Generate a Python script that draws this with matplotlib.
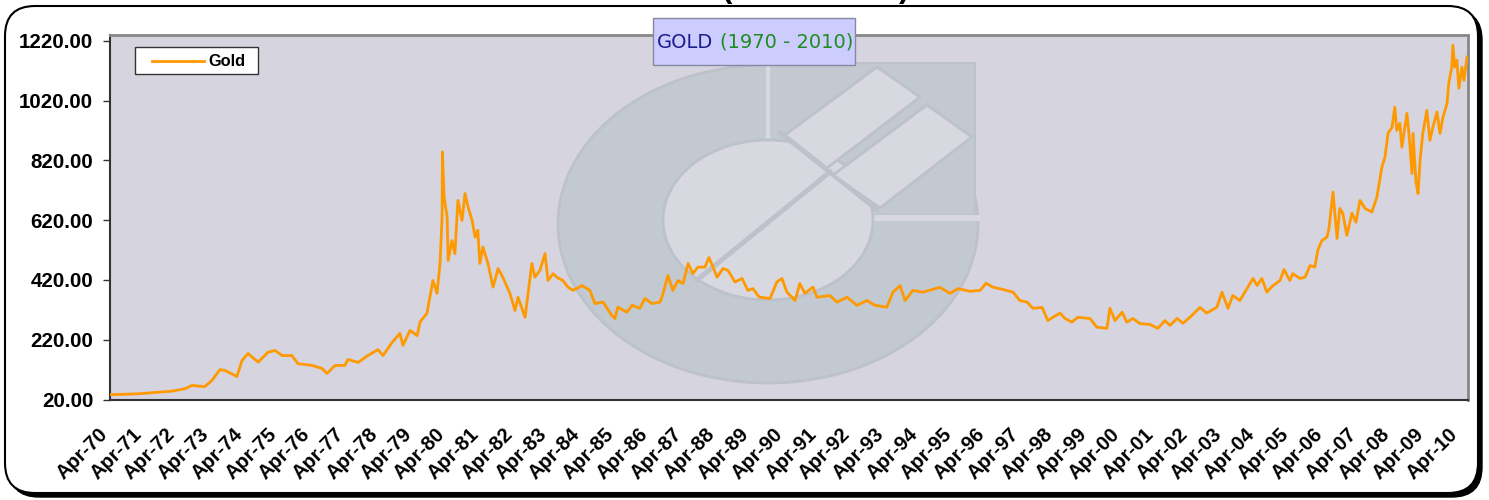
import matplotlib
matplotlib.use("Agg")
import matplotlib.pyplot as plt
import matplotlib.transforms as mtransforms
from matplotlib.patches import Ellipse, Rectangle, Polygon, FancyBboxPatch
from matplotlib.lines import Line2D

plt.rcParams['font.family'] = ['Liberation Sans', 'DejaVu Sans']

# gold price (USD/oz); x in decimal years
years = [
    1970.25, 1971.08, 1972.09, 1972.47, 1972.68, 1973.06, 1973.27, 1973.51, 1973.66, 1974.01,
    1974.16, 1974.34, 1974.64, 1974.93, 1975.14, 1975.35, 1975.64, 1975.82, 1976.24, 1976.53,
    1976.68, 1976.92, 1977.21, 1977.30, 1977.60, 1977.89, 1978.19, 1978.34, 1978.61, 1978.84,
    1978.93, 1979.14, 1979.35, 1979.44, 1979.64, 1979.73, 1979.82, 1979.94, 1980.03, 1980.09,
    1980.10, 1980.15, 1980.24, 1980.27, 1980.38, 1980.47, 1980.53, 1980.56, 1980.68, 1980.77,
    1980.86, 1980.98, 1981.07, 1981.15, 1981.21, 1981.30, 1981.45, 1981.60, 1981.75, 1981.89,
    1982.10, 1982.25, 1982.34, 1982.55, 1982.64, 1982.75, 1982.84, 1982.99, 1983.14, 1983.23,
    1983.38, 1983.49, 1983.67, 1983.82, 1983.97, 1984.24, 1984.47, 1984.62, 1984.86, 1985.12,
    1985.21, 1985.30, 1985.57, 1985.72, 1985.95, 1986.10, 1986.31, 1986.55, 1986.64, 1986.78,
    1986.93, 1987.08, 1987.23, 1987.38, 1987.52, 1987.67, 1987.88, 1988.00, 1988.24, 1988.41,
    1988.56, 1988.77, 1988.98, 1989.15, 1989.30, 1989.45, 1989.51, 1989.81, 1990.01, 1990.16,
    1990.31, 1990.55, 1990.69, 1990.84, 1991.08, 1991.20, 1991.58, 1991.79, 1992.09, 1992.38,
    1992.68, 1992.92, 1993.27, 1993.45, 1993.66, 1993.81, 1994.04, 1994.34, 1994.61, 1994.84,
    1995.14, 1995.38, 1995.73, 1996.03, 1996.21, 1996.41, 1996.71, 1997.01, 1997.21, 1997.42,
    1997.60, 1997.87, 1998.04, 1998.19, 1998.40, 1998.55, 1998.75, 1998.93, 1999.29, 1999.49,
    1999.79, 1999.88, 2000.03, 2000.24, 2000.38, 2000.56, 2000.77, 2001.07, 2001.30, 2001.51,
    2001.66, 2001.87, 2002.04, 2002.25, 2002.55, 2002.75, 2003.05, 2003.20, 2003.38, 2003.52,
    2003.73, 2003.94, 2004.12, 2004.24, 2004.38, 2004.53, 2004.71, 2004.92, 2005.04, 2005.21,
    2005.30, 2005.51, 2005.66, 2005.81, 2005.95, 2006.04, 2006.16, 2006.31, 2006.37, 2006.49,
    2006.61, 2006.69, 2006.78, 2006.90, 2007.05, 2007.17, 2007.29, 2007.44, 2007.64, 2007.73,
    2007.79, 2007.94, 2008.03, 2008.12, 2008.24, 2008.32, 2008.38, 2008.47, 2008.53, 2008.62,
    2008.68, 2008.74, 2008.83, 2008.86, 2008.95, 2009.01, 2009.07, 2009.15, 2009.27, 2009.36,
    2009.45, 2009.57, 2009.66, 2009.75, 2009.87, 2009.92, 2010.01, 2010.04, 2010.10, 2010.16,
    2010.22, 2010.31, 2010.37, 2010.46,
]
gold = [
    36, 39, 48, 56, 67, 63, 84, 120, 117, 97,
    150, 174, 145, 178, 184, 167, 167, 140, 134, 124,
    107, 134, 134, 154, 144, 167, 187, 167, 211, 241,
    201, 251, 234, 280, 308, 362, 418, 375, 475, 630,
    848, 697, 630, 485, 552, 508, 630, 686, 619, 709,
    664, 619, 563, 586, 475, 530, 475, 396, 458, 429,
    375, 318, 362, 295, 375, 475, 429, 452, 508, 418,
    441, 429, 418, 396, 385, 401, 385, 341, 346, 301,
    291, 329, 312, 335, 325, 358, 341, 346, 375, 435,
    385, 418, 408, 475, 441, 463, 463, 495, 429, 458,
    452, 413, 425, 385, 391, 368, 362, 358, 413, 425,
    379, 351, 408, 375, 396, 362, 368, 346, 362, 335,
    351, 335, 329, 379, 401, 351, 385, 379, 388, 395,
    375, 391, 382, 385, 409, 396, 388, 379, 351, 346,
    325, 328, 284, 295, 309, 291, 279, 295, 291, 262,
    258, 325, 284, 312, 279, 291, 274, 271, 258, 284,
    268, 291, 275, 295, 328, 309, 329, 379, 325, 368,
    351, 391, 425, 401, 425, 379, 401, 418, 455, 418,
    441, 425, 429, 468, 463, 519, 552, 563, 592, 714,
    559, 659, 643, 569, 643, 613, 686, 659, 647, 676,
    697, 798, 831, 910, 931, 998, 920, 944, 864, 931,
    977, 910, 776, 910, 747, 709, 820, 910, 987, 887,
    931, 982, 910, 965, 1011, 1078, 1132, 1205, 1132, 1155,
    1061, 1132, 1088, 1166,
]
tick_labels = [
    "Apr-70", "Apr-71", "Apr-72", "Apr-73", "Apr-74", "Apr-75", "Apr-76", "Apr-77",
    "Apr-78", "Apr-79", "Apr-80", "Apr-81", "Apr-82", "Apr-83", "Apr-84", "Apr-85",
    "Apr-86", "Apr-87", "Apr-88", "Apr-89", "Apr-90", "Apr-91", "Apr-92", "Apr-93",
    "Apr-94", "Apr-95", "Apr-96", "Apr-97", "Apr-98", "Apr-99", "Apr-00", "Apr-01",
    "Apr-02", "Apr-03", "Apr-04", "Apr-05", "Apr-06", "Apr-07", "Apr-08", "Apr-09",
    "Apr-10",
]
y_ticks = [20, 220, 420, 620, 820, 1020, 1220]

W, H = 1489, 500
fig = plt.figure(figsize=(W / 100, H / 100), dpi=100)
# pixel coords (origin top-left) -> figure
pix = mtransforms.Affine2D().scale(1 / W, -1 / H).translate(0, 1) + fig.transFigure

# rounded frame with drop shadow
bg = fig.add_axes([0, 0, 1, 1])
bg.set_xlim(0, W); bg.set_ylim(H, 0); bg.axis("off")
bg.add_patch(FancyBboxPatch((9, 10), 1473, 487, boxstyle="round,pad=0,rounding_size=30",
                            fc="black", ec="black", lw=1))
bg.add_patch(FancyBboxPatch((5, 6), 1473, 487, boxstyle="round,pad=0,rounding_size=30",
                            fc="white", ec="black", lw=1.5))

ax = fig.add_axes([110 / W, 1 - 399.5 / H, 1358 / W, 365 / H])
ax.set_facecolor("#D6D4DF")

# watermark logo
c_logo, c_edge, c_light = "#C3C9D1", "#BCC1CA", "#D8D8E1"
ax.add_patch(Ellipse((768, 224), 420, 318, transform=pix, fc=c_logo, ec=c_edge, lw=2, zorder=1))
ax.add_patch(Rectangle((767, 63), 208, 152, transform=pix, fc=c_logo, ec=c_edge, lw=1.5, zorder=1))
ax.add_patch(Rectangle((870, 215), 110, 6, transform=pix, fc=c_light, ec="none", zorder=1))
ax.add_patch(Rectangle((766, 60), 4, 80, transform=pix, fc=c_light, ec="none", zorder=1))
ax.add_patch(Ellipse((768, 220), 210, 160, transform=pix, fc=c_light, ec=c_edge, lw=2, zorder=1))
ax.add_patch(Polygon([(785, 135), (877, 67), (920, 97), (827, 168)], transform=pix,
                     fc=c_light, ec=c_edge, lw=2, zorder=1))
ax.add_patch(Polygon([(833, 175), (927, 105), (972, 137), (880, 208)], transform=pix,
                     fc=c_light, ec=c_edge, lw=2, zorder=1))
ax.add_line(Line2D([697, 830], [280, 172], transform=pix, color=c_edge, lw=3.5, zorder=1))
ax.add_line(Line2D([780, 877], [133, 210], transform=pix, color=c_edge, lw=3, zorder=1))

ax.plot(years, gold, color="#FF9900", lw=2.0, zorder=3)

ax.set_xlim(1970.25, 2010.49)
ax.set_ylim(20, 1241)
ax.set_yticks(y_ticks)
ax.set_yticklabels([f"{v:.2f}" for v in y_ticks], fontweight="bold", fontsize=14.8)
ax.set_xticks([1970.25 + i for i in range(len(tick_labels))])
ax.set_xticklabels(tick_labels, rotation=45, ha="right", va="top", rotation_mode="anchor",
                   fontweight="bold", fontsize=14.5)
ax.tick_params(axis="y", length=5, width=1, pad=7, color="#333333")
ax.tick_params(axis="x", length=0, pad=18)
for side in ("left", "bottom"):
    ax.spines[side].set_color("#333333"); ax.spines[side].set_linewidth(1.5)
for side in ("top", "right"):
    ax.spines[side].set_color("#888888"); ax.spines[side].set_linewidth(2)
for lbl in ax.get_xticklabels():
    lbl.set_transform(lbl.get_transform()
                      + mtransforms.ScaledTranslation(-12 / 100, 0, fig.dpi_scale_trans))

# legend box
ax.add_patch(Rectangle((135, 47), 123, 27, transform=pix, fc="white", ec="#333333",
                       lw=1, zorder=5, clip_on=False))
ax.add_line(Line2D([152, 204], [60.5, 60.5], transform=pix, color="#FF9900", lw=2,
                   zorder=6, clip_on=False))
ax.text(208, 61, "Gold", transform=pix, va="center", fontsize=11.8, fontweight="bold", zorder=6)

# title box
ax.add_patch(Rectangle((653, 18), 202, 47, transform=pix, fc="#CCCCFF", ec="#8888A0",
                       lw=1, zorder=6, clip_on=False))
fig.text(657 / W, 1 - 48 / H, "GOLD", color="#1C1C8C", fontsize=14,
         family="DejaVu Sans", va="baseline", zorder=7)
fig.text(720 / W, 1 - 48 / H, "(1970 - 2010)", color="#1E8C1E", fontsize=14,
         family="DejaVu Sans", va="baseline", zorder=7)
# heading above the frame, clipped by the image edge as in the original
fig.text(816 / W, 1 + 3 / H, "(1970 - 2010)", ha="center", va="baseline",
         fontsize=22.5, fontweight="bold", color="black")

fig.savefig("out.png", dpi=100)
